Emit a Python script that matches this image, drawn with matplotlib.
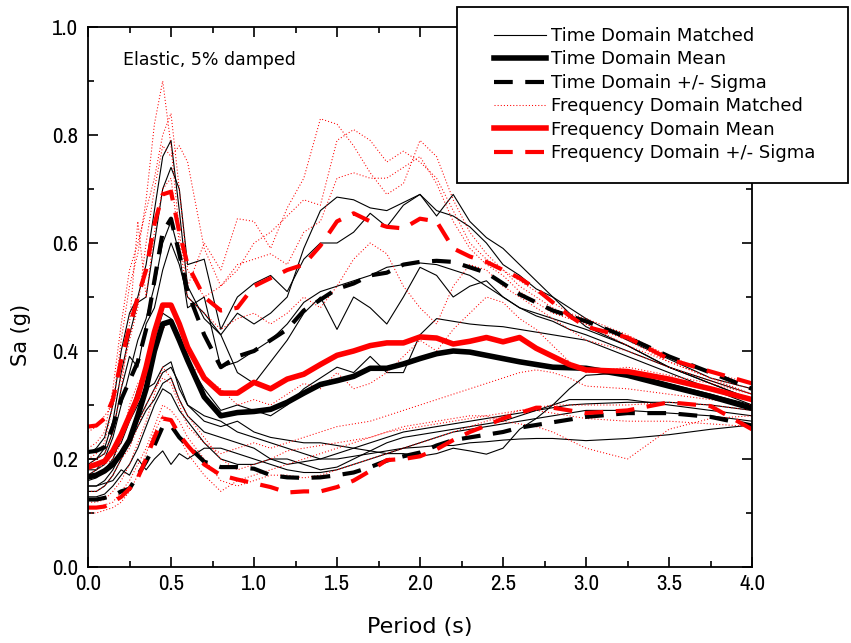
import numpy as np
import matplotlib
matplotlib.use("Agg")
import matplotlib.pyplot as plt
from matplotlib import font_manager
from matplotlib.lines import Line2D
from matplotlib.patches import Rectangle
from matplotlib.ticker import MultipleLocator

# period grid (s)
T = [0.0, 0.05, 0.1, 0.15, 0.2, 0.25, 0.3, 0.35, 0.4, 0.45, 0.5, 0.55, 0.6,
     0.7, 0.8, 0.9, 1.0, 1.1, 1.2, 1.3, 1.4, 1.5, 1.6, 1.7, 1.8, 1.9, 2.0,
     2.1, 2.2, 2.3, 2.4, 2.5, 2.6, 2.7, 2.8, 2.9, 3.0, 3.25, 3.5, 3.75, 4.0]

# time domain matched spectra
td1 = [0.21, 0.22, 0.24, 0.30, 0.40, 0.47, 0.50, 0.56, 0.66, 0.76, 0.79, 0.66, 0.52,
       0.46, 0.43, 0.47, 0.45, 0.47, 0.50, 0.59, 0.66, 0.685, 0.68, 0.665, 0.66, 0.675, 0.69,
       0.65, 0.69, 0.64, 0.61, 0.59, 0.56, 0.53, 0.50, 0.47, 0.445, 0.41, 0.37, 0.345, 0.32]
td2 = [0.19, 0.20, 0.22, 0.27, 0.36, 0.43, 0.49, 0.50, 0.60, 0.70, 0.74, 0.70, 0.56,
       0.57, 0.44, 0.50, 0.525, 0.54, 0.51, 0.57, 0.60, 0.60, 0.62, 0.655, 0.63, 0.67, 0.69,
       0.66, 0.65, 0.63, 0.60, 0.56, 0.54, 0.515, 0.50, 0.48, 0.46, 0.42, 0.385, 0.35, 0.33]
td3 = [0.17, 0.18, 0.20, 0.24, 0.30, 0.36, 0.42, 0.46, 0.52, 0.60, 0.64, 0.58, 0.48,
       0.50, 0.37, 0.38, 0.40, 0.42, 0.45, 0.49, 0.51, 0.52, 0.53, 0.54, 0.555, 0.56, 0.563,
       0.56, 0.55, 0.54, 0.52, 0.50, 0.48, 0.465, 0.455, 0.44, 0.43, 0.40, 0.37, 0.34, 0.31]
td4 = [0.20, 0.20, 0.21, 0.25, 0.33, 0.39, 0.37, 0.45, 0.48, 0.55, 0.60, 0.56, 0.50,
       0.47, 0.43, 0.36, 0.34, 0.38, 0.42, 0.47, 0.50, 0.44, 0.50, 0.48, 0.45, 0.50, 0.555,
       0.54, 0.50, 0.52, 0.53, 0.50, 0.48, 0.47, 0.46, 0.45, 0.44, 0.41, 0.37, 0.34, 0.31]
td5 = [0.16, 0.165, 0.18, 0.20, 0.24, 0.28, 0.33, 0.36, 0.42, 0.47, 0.46, 0.42, 0.38,
       0.33, 0.29, 0.30, 0.29, 0.28, 0.30, 0.33, 0.35, 0.37, 0.36, 0.39, 0.36, 0.36, 0.43,
       0.46, 0.455, 0.45, 0.447, 0.445, 0.44, 0.435, 0.43, 0.425, 0.42, 0.39, 0.36, 0.33, 0.30]
td6 = [0.15, 0.15, 0.16, 0.18, 0.21, 0.24, 0.27, 0.30, 0.33, 0.36, 0.37, 0.34, 0.30,
       0.27, 0.26, 0.27, 0.25, 0.24, 0.235, 0.23, 0.23, 0.225, 0.22, 0.215, 0.21, 0.21, 0.205,
       0.21, 0.22, 0.215, 0.209, 0.22, 0.255, 0.275, 0.30, 0.33, 0.355, 0.36, 0.34, 0.32, 0.30]
td7 = [0.14, 0.14, 0.15, 0.17, 0.20, 0.23, 0.26, 0.29, 0.31, 0.34, 0.35, 0.31, 0.28,
       0.25, 0.24, 0.23, 0.22, 0.20, 0.19, 0.195, 0.20, 0.21, 0.22, 0.23, 0.24, 0.25, 0.255,
       0.26, 0.265, 0.27, 0.275, 0.28, 0.285, 0.29, 0.295, 0.30, 0.302, 0.305, 0.305, 0.30, 0.29]
td8 = [0.13, 0.13, 0.135, 0.15, 0.17, 0.19, 0.22, 0.26, 0.30, 0.33, 0.32, 0.29, 0.27,
       0.23, 0.20, 0.19, 0.19, 0.20, 0.20, 0.19, 0.18, 0.185, 0.20, 0.215, 0.23, 0.24, 0.245,
       0.25, 0.255, 0.26, 0.265, 0.27, 0.28, 0.29, 0.30, 0.31, 0.31, 0.31, 0.30, 0.29, 0.28]
td9 = [0.18, 0.18, 0.19, 0.21, 0.23, 0.27, 0.30, 0.33, 0.34, 0.37, 0.38, 0.33, 0.30,
       0.28, 0.27, 0.25, 0.24, 0.23, 0.22, 0.21, 0.20, 0.20, 0.205, 0.21, 0.215, 0.22, 0.222,
       0.225, 0.225, 0.23, 0.232, 0.235, 0.237, 0.238, 0.238, 0.236, 0.234, 0.238, 0.245, 0.255, 0.263]
td10 = [0.15, 0.15, 0.155, 0.16, 0.18, 0.17, 0.20, 0.18, 0.20, 0.215, 0.19, 0.21, 0.20,
        0.22, 0.22, 0.21, 0.20, 0.19, 0.18, 0.175, 0.175, 0.18, 0.19, 0.20, 0.21, 0.22, 0.23,
        0.24, 0.25, 0.255, 0.26, 0.265, 0.27, 0.275, 0.28, 0.285, 0.29, 0.29, 0.285, 0.28, 0.27]

# frequency domain matched spectra
fd1 = [0.20, 0.21, 0.23, 0.30, 0.42, 0.52, 0.58, 0.68, 0.82, 0.90, 0.78, 0.62, 0.52,
       0.60, 0.55, 0.645, 0.64, 0.59, 0.665, 0.72, 0.83, 0.82, 0.78, 0.73, 0.69, 0.71, 0.79,
       0.76, 0.68, 0.62, 0.58, 0.55, 0.53, 0.51, 0.49, 0.47, 0.46, 0.43, 0.39, 0.36, 0.34]
fd2 = [0.22, 0.23, 0.25, 0.33, 0.45, 0.55, 0.60, 0.66, 0.72, 0.80, 0.84, 0.70, 0.55,
       0.50, 0.52, 0.55, 0.60, 0.62, 0.65, 0.68, 0.67, 0.79, 0.81, 0.79, 0.75, 0.77, 0.75,
       0.72, 0.66, 0.60, 0.57, 0.55, 0.52, 0.50, 0.48, 0.465, 0.45, 0.42, 0.38, 0.35, 0.33]
fd3 = [0.25, 0.26, 0.28, 0.30, 0.35, 0.42, 0.48, 0.60, 0.70, 0.78, 0.76, 0.78, 0.75,
       0.59, 0.52, 0.56, 0.57, 0.58, 0.56, 0.62, 0.64, 0.72, 0.73, 0.72, 0.72, 0.74, 0.76,
       0.71, 0.64, 0.59, 0.56, 0.54, 0.51, 0.49, 0.47, 0.46, 0.45, 0.41, 0.38, 0.35, 0.32]
fd4 = [0.19, 0.20, 0.21, 0.25, 0.33, 0.45, 0.64, 0.50, 0.62, 0.70, 0.72, 0.60, 0.50,
       0.47, 0.44, 0.46, 0.47, 0.45, 0.47, 0.50, 0.48, 0.52, 0.57, 0.60, 0.58, 0.52, 0.48,
       0.45, 0.52, 0.56, 0.55, 0.52, 0.50, 0.48, 0.46, 0.44, 0.42, 0.40, 0.37, 0.345, 0.32]
fd5 = [0.17, 0.18, 0.19, 0.20, 0.23, 0.30, 0.34, 0.36, 0.40, 0.44, 0.46, 0.43, 0.38,
       0.35, 0.33, 0.30, 0.31, 0.30, 0.32, 0.34, 0.33, 0.36, 0.33, 0.34, 0.36, 0.39, 0.42,
       0.40, 0.44, 0.47, 0.50, 0.49, 0.46, 0.44, 0.41, 0.38, 0.36, 0.37, 0.355, 0.34, 0.32]
fd6 = [0.12, 0.12, 0.125, 0.14, 0.16, 0.19, 0.23, 0.27, 0.32, 0.37, 0.35, 0.31, 0.28,
       0.24, 0.20, 0.18, 0.19, 0.20, 0.215, 0.22, 0.225, 0.23, 0.235, 0.24, 0.25, 0.26, 0.265,
       0.27, 0.275, 0.28, 0.28, 0.27, 0.265, 0.26, 0.25, 0.235, 0.22, 0.20, 0.255, 0.275, 0.28]
fd7 = [0.11, 0.11, 0.115, 0.12, 0.14, 0.16, 0.19, 0.22, 0.26, 0.30, 0.29, 0.27, 0.24,
       0.20, 0.16, 0.15, 0.16, 0.17, 0.17, 0.165, 0.17, 0.18, 0.19, 0.20, 0.21, 0.22, 0.23,
       0.24, 0.25, 0.26, 0.27, 0.28, 0.29, 0.295, 0.30, 0.30, 0.30, 0.30, 0.305, 0.30, 0.29]
fd8 = [0.14, 0.14, 0.15, 0.17, 0.20, 0.22, 0.26, 0.30, 0.33, 0.35, 0.34, 0.30, 0.26,
       0.23, 0.21, 0.22, 0.23, 0.22, 0.23, 0.24, 0.25, 0.26, 0.265, 0.27, 0.28, 0.29, 0.30,
       0.31, 0.32, 0.33, 0.34, 0.35, 0.36, 0.365, 0.36, 0.35, 0.335, 0.33, 0.32, 0.31, 0.30]
fd9 = [0.10, 0.10, 0.105, 0.11, 0.12, 0.14, 0.17, 0.21, 0.25, 0.28, 0.27, 0.24, 0.21,
       0.17, 0.14, 0.16, 0.17, 0.18, 0.19, 0.20, 0.21, 0.22, 0.23, 0.24, 0.25, 0.255, 0.26,
       0.265, 0.27, 0.275, 0.28, 0.285, 0.29, 0.29, 0.285, 0.28, 0.275, 0.27, 0.27, 0.265, 0.26]

# statistics
td_mean = [0.167, 0.17, 0.178, 0.19, 0.21, 0.235, 0.28, 0.33, 0.40, 0.45, 0.455, 0.42, 0.383,
           0.315, 0.28, 0.286, 0.288, 0.292, 0.305, 0.322, 0.338, 0.345, 0.353, 0.368, 0.368, 0.376, 0.386,
           0.395, 0.40, 0.398, 0.392, 0.386, 0.38, 0.375, 0.37, 0.369, 0.368, 0.355, 0.335, 0.316, 0.294]
td_plus = [0.213, 0.215, 0.222, 0.26, 0.31, 0.345, 0.38, 0.44, 0.53, 0.62, 0.645, 0.58, 0.51,
           0.43, 0.37, 0.39, 0.40, 0.42, 0.44, 0.475, 0.495, 0.515, 0.525, 0.54, 0.545, 0.56, 0.565,
           0.567, 0.565, 0.555, 0.545, 0.525, 0.505, 0.49, 0.475, 0.465, 0.455, 0.425, 0.39, 0.36, 0.33]
td_minus = [0.125, 0.125, 0.128, 0.132, 0.14, 0.145, 0.17, 0.195, 0.225, 0.26, 0.262, 0.24, 0.225,
            0.195, 0.185, 0.185, 0.182, 0.17, 0.166, 0.165, 0.166, 0.17, 0.175, 0.185, 0.197, 0.205, 0.212,
            0.225, 0.235, 0.24, 0.245, 0.25, 0.258, 0.263, 0.268, 0.273, 0.278, 0.285, 0.285, 0.278, 0.262]
fd_mean = [0.185, 0.19, 0.196, 0.215, 0.245, 0.28, 0.315, 0.37, 0.435, 0.485, 0.485, 0.45, 0.407,
           0.35, 0.322, 0.322, 0.342, 0.33, 0.348, 0.357, 0.375, 0.392, 0.40, 0.41, 0.415, 0.415, 0.426,
           0.424, 0.413, 0.418, 0.425, 0.417, 0.425, 0.405, 0.39, 0.375, 0.365, 0.362, 0.348, 0.33, 0.31]
fd_plus = [0.26, 0.262, 0.275, 0.31, 0.383, 0.445, 0.50, 0.55, 0.635, 0.69, 0.695, 0.62, 0.56,
           0.50, 0.475, 0.48, 0.52, 0.535, 0.55, 0.56, 0.595, 0.64, 0.655, 0.64, 0.63, 0.627, 0.645,
           0.64, 0.59, 0.575, 0.565, 0.55, 0.535, 0.515, 0.49, 0.465, 0.445, 0.425, 0.385, 0.362, 0.34]
fd_minus = [0.11, 0.11, 0.112, 0.12, 0.13, 0.145, 0.165, 0.20, 0.24, 0.275, 0.272, 0.245, 0.225,
            0.19, 0.17, 0.162, 0.155, 0.148, 0.138, 0.14, 0.14, 0.148, 0.16, 0.178, 0.198, 0.20, 0.205,
            0.218, 0.235, 0.25, 0.262, 0.275, 0.285, 0.295, 0.295, 0.29, 0.285, 0.29, 0.305, 0.298, 0.255]

td_matched = [td1, td2, td3, td4, td5, td6, td7, td8, td9, td10]
fd_matched = [fd1, fd2, fd3, fd4, fd5, fd6, fd7, fd8, fd9]

# narrow face for the tick numbers if one is installed
tick_family = 'Liberation Sans'
tick_stretch = 'normal'
for f in font_manager.fontManager.ttflist:
    if 'Narrow' in f.name or 'Condensed' in f.name:
        tick_family = f.name
        break
    if f.stretch in ('condensed', 'semi-condensed') and f.name in ('DejaVu Sans', 'Open Sans', 'Roboto'):
        tick_family = f.name
        tick_stretch = f.stretch

fig = plt.figure(figsize=(8.51, 6.43), dpi=100)
ax = fig.add_axes([88 / 851, 76 / 643, 664 / 851, 540 / 643])

for s in td_matched:
    ax.plot(T, s, color='black', lw=0.8)
for s in fd_matched:
    ax.plot(T, s, color='red', lw=0.75, linestyle=(0, (1, 2)))

dash = (0, (4.5, 3))
ax.plot(T, td_mean, color='black', lw=4)
ax.plot(T, fd_mean, color='red', lw=4)
ax.plot(T, td_plus, color='black', lw=3, linestyle=dash)
ax.plot(T, td_minus, color='black', lw=3, linestyle=dash)
ax.plot(T, fd_plus, color='red', lw=3, linestyle=dash)
ax.plot(T, fd_minus, color='red', lw=3, linestyle=dash)

ax.set_xlim(0, 4)
ax.set_ylim(0, 1)
ax.xaxis.set_major_locator(MultipleLocator(0.5))
ax.xaxis.set_minor_locator(MultipleLocator(0.25))
ax.yaxis.set_major_locator(MultipleLocator(0.2))
ax.yaxis.set_minor_locator(MultipleLocator(0.1))
ax.xaxis.set_major_formatter('{x:.1f}')
ax.yaxis.set_major_formatter('{x:.1f}')
ax.tick_params(which='both', direction='in', top=True, right=True, width=1.2)
ax.tick_params(which='major', length=7)
ax.tick_params(which='minor', length=4)
ax.tick_params(axis='x', pad=5)
ax.tick_params(axis='y', pad=7)
fig.canvas.draw()
for lab in ax.get_xticklabels() + ax.get_yticklabels():
    lab.set_family(tick_family)
    lab.set_stretch(tick_stretch)
    lab.set_fontsize(16.5)
for sp in ax.spines.values():
    sp.set_linewidth(1.3)

ax.set_xlabel('Period (s)', fontsize=16)
ax.xaxis.set_label_coords(0.5, -0.092)
ax.set_ylabel('Sa (g)', fontsize=15, labelpad=14)
ax.yaxis.set_label_coords(-0.086, 0.43)
ax.text(0.053, 0.955, 'Elastic, 5% damped', transform=ax.transAxes,
        fontsize=12.5, va='top', ha='left')

# legend box (sticks out past the axes)
fig.patches.append(Rectangle((457 / 851, 1 - 183 / 643), 391 / 851, 176 / 643,
                             transform=fig.transFigure, facecolor='white',
                             edgecolor='black', lw=1.3, zorder=10))
handles = [
    Line2D([], [], color='black', lw=0.8),
    Line2D([], [], color='black', lw=4),
    Line2D([], [], color='black', lw=3, linestyle=dash),
    Line2D([], [], color='red', lw=0.75, linestyle=(0, (1, 2))),
    Line2D([], [], color='red', lw=4),
    Line2D([], [], color='red', lw=3, linestyle=dash),
]
labels = ['Time Domain Matched', 'Time Domain Mean', 'Time Domain +/- Sigma',
          'Frequency Domain Matched', 'Frequency Domain Mean', 'Frequency Domain +/- Sigma']
leg = fig.legend(handles, labels, loc='upper left',
                 bbox_to_anchor=(494 / 851, 1 - 27 / 643), frameon=False,
                 fontsize=13, handlelength=2.9, handletextpad=0.25,
                 labelspacing=0.3, borderpad=0, borderaxespad=0)
leg.set_zorder(11)

fig.savefig('out.png', dpi=100)
